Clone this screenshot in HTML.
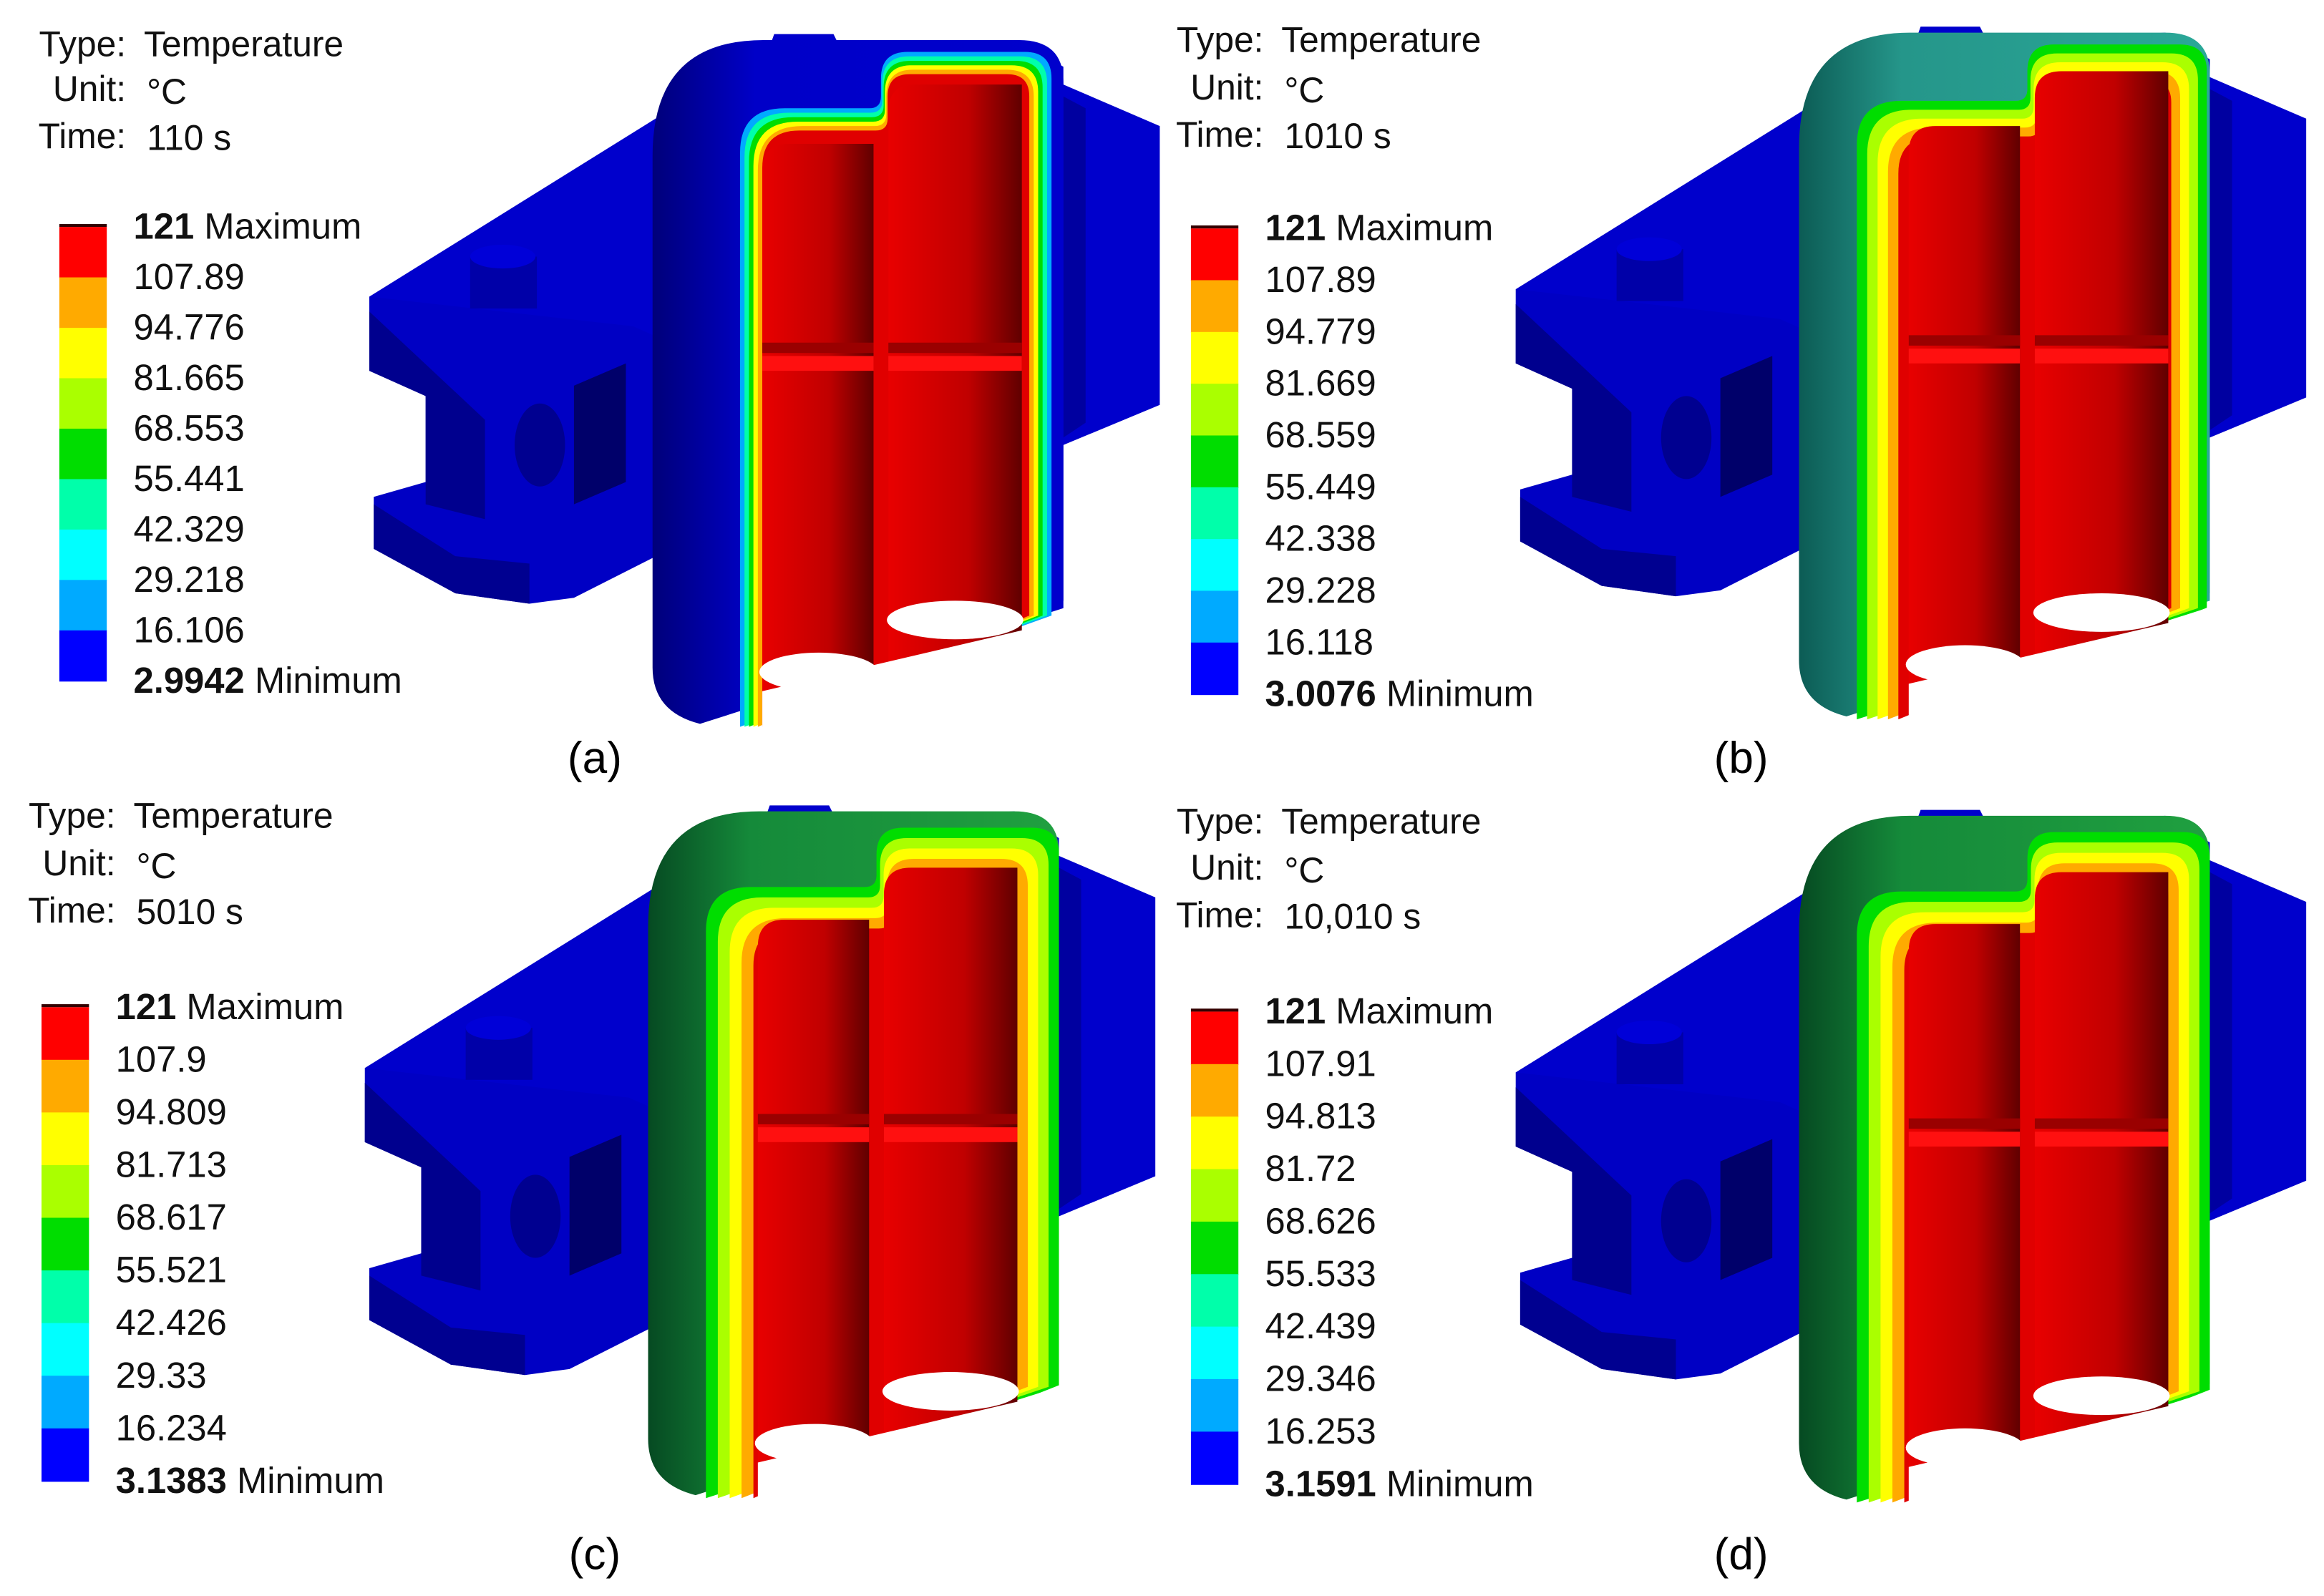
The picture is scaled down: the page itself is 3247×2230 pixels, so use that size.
<!DOCTYPE html>
<html><head><meta charset="utf-8">
<style>html,body{margin:0;padding:0;background:#fff}svg{display:block}
text{font-family:"Liberation Sans","DejaVu Sans",sans-serif;}</style></head>
<body>
<svg id="s" xmlns="http://www.w3.org/2000/svg" width="3247" height="2230" viewBox="0 0 1567 1076" preserveAspectRatio="none">
<defs>
<linearGradient id="bore" x1="0" x2="1" y1="0" y2="0"><stop offset="0" stop-color="#e80000"/><stop offset="0.6" stop-color="#c00000"/><stop offset="1" stop-color="#600000"/></linearGradient>
<linearGradient id="teal" x1="0" x2="1"><stop offset="0" stop-color="#0c5c55"/><stop offset="0.25" stop-color="#25968a"/><stop offset="1" stop-color="#2aa898"/></linearGradient>
<linearGradient id="dgreen" x1="0" x2="1"><stop offset="0" stop-color="#064a22"/><stop offset="0.25" stop-color="#158a3a"/><stop offset="1" stop-color="#20a040"/></linearGradient>
<linearGradient id="blueF" x1="0" x2="1"><stop offset="0" stop-color="#00007a"/><stop offset="0.25" stop-color="#0000c8"/><stop offset="1" stop-color="#0000cc"/></linearGradient>
</defs>
<g id="models"></g>
<g id="txt" font-size="24" fill="#111">
<text x="85" y="38" text-anchor="end">Type:</text><text x="97" y="38">Temperature</text>
<text x="85" y="68" text-anchor="end">Unit:</text><text x="99" y="70">°C</text>
<text x="85" y="100" text-anchor="end">Time:</text><text x="99" y="101">110 s</text>
<text x="852" y="35" text-anchor="end">Type:</text><text x="864" y="35">Temperature</text>
<text x="852" y="67" text-anchor="end">Unit:</text><text x="866" y="69">°C</text>
<text x="852" y="99" text-anchor="end">Time:</text><text x="866" y="100">1010 s</text>
<text x="78" y="558" text-anchor="end">Type:</text><text x="90" y="558">Temperature</text>
<text x="78" y="590" text-anchor="end">Unit:</text><text x="92" y="592">°C</text>
<text x="78" y="622" text-anchor="end">Time:</text><text x="92" y="623">5010 s</text>
<text x="852" y="562" text-anchor="end">Type:</text><text x="864" y="562">Temperature</text>
<text x="852" y="593" text-anchor="end">Unit:</text><text x="866" y="595">°C</text>
<text x="852" y="625" text-anchor="end">Time:</text><text x="866" y="626">10,010 s</text>
</g>
<g font-family="Liberation Serif,serif" font-size="30" fill="#000" text-anchor="middle">
<text x="401" y="521">(a)</text><text x="1174" y="521">(b)</text>
<text x="401" y="1058">(c)</text><text x="1174" y="1058">(d)</text>
</g>
<g id="legs"></g>
</svg>
<script>
var NS="http://www.w3.org/2000/svg";
function el(p,tag,at,txt){var e=document.createElementNS(NS,tag);for(var k in at)e.setAttribute(k,at[k]);if(txt!==undefined)e.textContent=txt;p.appendChild(e);return e;}
var M=document.getElementById('models'),L=document.getElementById('legs');
var cols=['#ff0000','#ffaa00','#ffff00','#aaff00','#00dd00','#00ffaa','#00ffff','#00aaff','#0000ff'];
function legend(x,y0,step,labels){
  for(var i=0;i<9;i++)el(L,'rect',{x:x,y:y0+i*step,width:32,height:step+0.5,fill:cols[i]});
  el(L,'rect',{x:x,y:y0-2,width:32,height:2,fill:'#300'});
  for(var i=0;i<10;i++){
    var t=el(L,'text',{x:x+50,y:y0+i*step+8,'font-size':24.5,fill:'#111'});
    if(i==0||i==9){el(t,'tspan',{'font-weight':'bold'},labels[i]);el(t,'tspan',{},' '+(i==0?'Maximum':'Minimum'));}
    else t.textContent=labels[i];
  }
}
legend(40,153,34,['121','107.89','94.776','81.665','68.553','55.441','42.329','29.218','16.106','2.9942']);
legend(803,154,34.9,['121','107.89','94.779','81.669','68.559','55.449','42.338','29.228','16.118','3.0076']);
legend(28,679,35.5,['121','107.9','94.809','81.713','68.617','55.521','42.426','29.33','16.234','3.1383']);
legend(803,682,35.4,['121','107.91','94.813','81.72','68.626','55.533','42.439','29.346','16.253','3.1591']);

function P(pts,ox,oy){return pts.map(function(p){return (p[0]+ox)+','+(p[1]+oy);}).join(' ');}
function hump(g,ox,oy,a,b,tL,tR,xm,rr,fill){
  var p='M'+(a+ox)+','+(485+oy)+' L'+(a+ox)+','+(tL+rr+oy)+' Q'+(a+ox)+','+(tL+oy)+' '+(a+rr+ox)+','+(tL+oy)+
   ' L'+(xm-8+ox)+','+(tL+oy)+' Q'+(xm+ox)+','+(tL+oy)+' '+(xm+ox)+','+(tL-8+oy)+
   ' L'+(xm+ox)+','+(tR+rr*0.6+oy)+' Q'+(xm+ox)+','+(tR+oy)+' '+(xm+rr*0.6+ox)+','+(tR+oy)+
   ' L'+(b-rr*0.6+ox)+','+(tR+oy)+' Q'+(b+ox)+','+(tR+oy)+' '+(b+ox)+','+(tR+rr*0.6+oy)+' L'+(b+ox)+','+(410+oy)+' Z';
  el(g,'path',{d:p,fill:fill});
}
function model(ox,oy,o){
  var g=el(M,'g',{});
  el(g,'polygon',{points:P([[1022,195],[1215,75],[1290,32],[1295,18],[1335,18],[1340,28],[1460,22],[1490,40],[1490,52],[1555,80],[1555,268],[1490,295],[1490,400],[1245,360]],ox,oy),fill:'#0000cc'});
  el(g,'polygon',{points:P([[1490,60],[1505,68],[1505,280],[1490,290]],ox,oy),fill:'#0000a0'});
  el(g,'polygon',{points:P([[1022,195],[1022,245],[1060,262],[1060,320],[1025,330],[1025,365],[1080,395],[1130,402],[1160,398],[1245,355],[1245,235],[1200,215]],ox,oy),fill:'#0000c4'});
  el(g,'polygon',{points:P([[1022,205],[1022,245],[1060,262],[1060,335],[1100,345],[1100,278]],ox,oy),fill:'#00008e'});
  el(g,'polygon',{points:P([[1025,335],[1025,365],[1080,395],[1130,402],[1130,375],[1080,370]],ox,oy),fill:'#000090'});
  el(g,'polygon',{points:P([[1160,255],[1195,240],[1195,320],[1160,335]],ox,oy),fill:'#00006a'});
  el(g,'ellipse',{cx:1137+ox,cy:295+oy,rx:17,ry:28,fill:'#000090'});
  el(g,'rect',{x:1090+ox,y:168+oy,width:45,height:35,fill:'#0000a8'});
  el(g,'ellipse',{cx:1112+ox,cy:168+oy,rx:22,ry:8,fill:'#0000d8'});
  var x0=1213,x1=1490,xm=1367;
  el(g,'path',{d:'M'+(x0+ox)+','+(445+oy)+' L'+(x0+ox)+','+(100+oy)+' Q'+(x0+ox)+','+(22+oy)+' '+(x0+75+ox)+','+(22+oy)+
    ' L'+(x1-30+ox)+','+(22+oy)+' Q'+(x1+ox)+','+(22+oy)+' '+(x1+ox)+','+(50+oy)+' L'+(x1+ox)+','+(405+oy)+' L'+(1245+ox)+','+(483+oy)+' Q'+(x0+ox)+','+(475+oy)+' '+(x0+ox)+','+(445+oy)+' Z',fill:o.outer});
  var l=o.first[0],t=o.first[1],r=o.first[2];
  o.colors.forEach(function(c){
    hump(g,ox,oy,l,r,t+o.hd,t,xm+(l-o.first[0])*0.3,30,c);
    l+=o.step[0];t+=o.step[1];r-=o.step[2];
  });
  hump(g,ox,oy,l,r,t+o.hd,t,xm+(l-o.first[0])*0.3,25,'#e00000');
  [[1287,1362,o.bt[0]],[1372,1462,o.bt[1]]].forEach(function(B){
    var w=B[1]-B[0];
    el(g,'path',{d:'M'+(B[0]+ox)+','+(470+oy)+' L'+(B[0]+ox)+','+(B[2]+18+oy)+' Q'+(B[0]+ox)+','+(B[2]+oy)+' '+(B[0]+18+ox)+','+(B[2]+oy)+' L'+(B[1]+ox)+','+(B[2]+oy)+' L'+(B[1]+ox)+','+(460+oy)+' Z',fill:'url(#bore)'});
    el(g,'rect',{x:B[0]+ox,y:235+oy,width:w,height:10,fill:'#ff1010'});
    el(g,'rect',{x:B[0]+ox,y:226+oy,width:w,height:7,fill:'#9a0000'});
  });
  el(g,'ellipse',{cx:1325+ox,cy:448+oy,rx:40,ry:13,fill:'#fff'});
  el(g,'ellipse',{cx:1417+ox,cy:413+oy,rx:46,ry:13,fill:'#fff'});
  el(g,'polygon',{points:P([[1287,461],[1462,420],[1500,405],[1500,520],[1287,520]],ox,oy),fill:'#fff'});
}
model(-773,5,{outer:'url(#blueF)',first:[1272,30,1482],step:[3,3,3],hd:38,colors:['#00aaff','#00ffaa','#00dd00','#ffff00','#ffaa00'],bt:[92,52]});
model(0,0,{outer:'url(#teal)',first:[1252,30,1488],step:[7,6,6],hd:38,colors:['#00dd00','#aaff00','#ffff00','#ffaa00'],bt:[85,48]});
model(-776,525,{outer:'url(#dgreen)',first:[1252,33,1490],step:[8,7,7],hd:40,colors:['#00dd00','#aaff00','#ffff00','#ffaa00'],bt:[95,60]});
model(0,528,{outer:'url(#dgreen)',first:[1252,33,1490],step:[8,7,7],hd:40,colors:['#00dd00','#aaff00','#ffff00','#ffaa00'],bt:[95,60]});
</script>
</body></html>
